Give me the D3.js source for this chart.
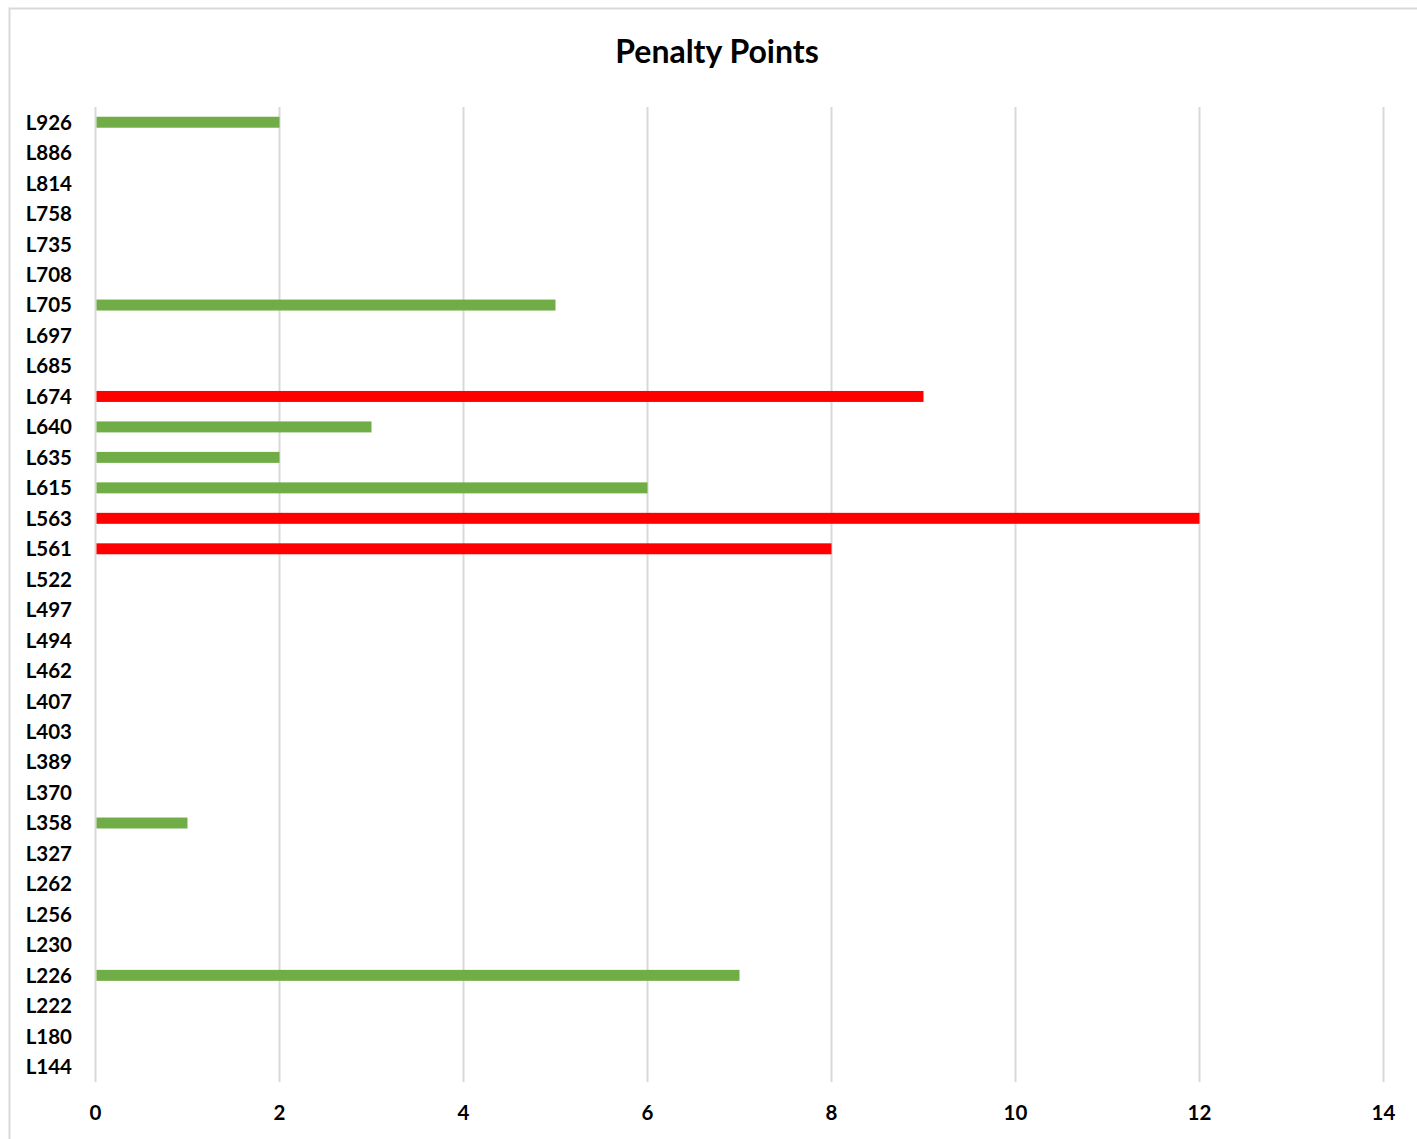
<!DOCTYPE html>
<html>
<head>
<meta charset="utf-8">
<script src="https://cdn.jsdelivr.net/npm/d3@7"></script>
<style>
  body { margin: 0; background: #fff; }
  svg text { font-family: Lato, "Open Sans", sans-serif; font-weight: bold; fill: #000; }
</style>
</head>
<body>
<script>
const codigos = ["L926","L886","L814","L758","L735","L708","L705","L697","L685","L674",
                 "L640","L635","L615","L563","L561","L522","L497","L494","L462","L407",
                 "L403","L389","L370","L358","L327","L262","L256","L230","L226","L222",
                 "L180","L144"];
const pontos = [2,0,0,0,0,0,5,0,0,9,
                3,2,6,12,8,0,0,0,0,0,
                0,0,0,1,0,0,0,0,7,0,
                0,0];
const marcas = [0, 2, 4, 6, 8, 10, 12, 14];
const limite = 8;

const largura = 1417, altura = 1139;
const margens = { c: 107, d: 34, b: 57, e: 95 };
const dim = { l: largura - margens.e - margens.d, a: altura - margens.c - margens.b };

const svg = d3.select("body").append("svg")
  .attr("width", largura)
  .attr("height", altura);

// moldura
svg.append("rect")
  .attr("x", 9.5).attr("y", 8.5)
  .attr("width", largura + 20).attr("height", altura + 20)
  .attr("fill", "none")
  .attr("stroke", "#d9d9d9")
  .attr("stroke-width", 2);

svg.append("text")
  .attr("x", 717).attr("y", 63)
  .attr("text-anchor", "middle")
  .style("font-size", "32px")
  .text("Penalty Points");

const g = svg.append("g")
  .attr("transform", "translate(" + margens.e + "," + margens.c + ")");

const x = d3.scaleLinear().domain([0, 14]).range([0, dim.l]);
const y = d3.scaleBand().domain(codigos).range([0, dim.a]).paddingInner(0.64).paddingOuter(0.32);

// grelha
g.selectAll("line.grelha")
  .data(marcas)
  .enter().append("line")
  .attr("class", "grelha")
  .attr("x1", d => Math.round(x(d)) + 0.5)
  .attr("x2", d => Math.round(x(d)) + 0.5)
  .attr("y1", 0).attr("y2", dim.a)
  .attr("stroke", "#d9d9d9")
  .attr("stroke-width", 2);

const dados = codigos.map((c, i) => ({ codigo: c, valor: pontos[i] }));

g.selectAll("rect.barra")
  .data(dados.filter(d => d.valor > 0))
  .enter().append("rect")
  .attr("class", "barra")
  .attr("x", x(0) + 1.5)
  .attr("y", d => y(d.codigo))
  .attr("width", d => x(d.valor) - x(0) - 1)
  .attr("height", y.bandwidth())
  .attr("fill", d => d.valor >= limite ? "#ff0000" : "#70ad47");

const yEixo = d3.axisLeft(y).tickSize(0).tickPadding(23);
const eixoY = g.append("g").call(yEixo);
eixoY.select(".domain").remove();
eixoY.selectAll("text")
  .style("font-size", "20.5px")
  .attr("dy", "0.36em");

const xEixo = d3.axisBottom(x).tickValues(marcas).tickSize(0).tickPadding(23)
  .tickFormat(d3.format("d"));
const eixoX = g.append("g").attr("transform", "translate(0," + dim.a + ")").call(xEixo);
eixoX.select(".domain").remove();
eixoX.selectAll("text").style("font-size", "20.5px");
</script>
</body>
</html>
